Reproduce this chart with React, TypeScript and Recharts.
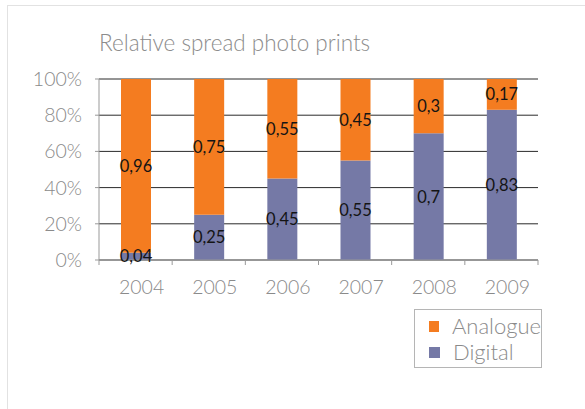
import React from "react";
import {
  BarChart,
  Bar,
  XAxis,
  YAxis,
  CartesianGrid,
  LabelList,
} from "recharts";

const YEARS = ["2004", "2005", "2006", "2007", "2008", "2009"];
const DIGITAL = [0.04, 0.25, 0.45, 0.55, 0.7, 0.83];
const ANALOGUE = [0.96, 0.75, 0.55, 0.45, 0.3, 0.17];
const Y_TICKS = [0, 0.2, 0.4, 0.6, 0.8, 1];

const ORANGE = "#f47c20";
const PURPLE = "#7579a6";
const FONT = "Lato, 'Open Sans', sans-serif";

const W = 585;
const H = 409;
const MARGIN = { top: 79, right: 47, bottom: 119, left: 0 };
const Y_WIDTH = 99;

const data = YEARS.map((year, i) => ({
  year,
  digital: DIGITAL[i],
  analogue: ANALOGUE[i],
}));

const SERIES = [
  { name: "Analogue", color: ORANGE },
  { name: "Digital", color: PURPLE },
];

const commaNum = (v: any) => String(v).replace(".", ",");

// category label in the middle, small tick marks on the band boundaries
const YearTick = (props: any) => {
  const { x, y, payload, index } = props;
  const band = (W - MARGIN.right - Y_WIDTH) / YEARS.length;
  const top = y - 8;
  return (
    <g>
      <line x1={x - band / 2} x2={x - band / 2} y1={top} y2={top + 5} stroke="#999" />
      {index === YEARS.length - 1 && (
        <line x1={x + band / 2} x2={x + band / 2} y1={top} y2={top + 5} stroke="#999" />
      )}
      <text
        x={x + 6}
        y={top + 34}
        textAnchor="middle"
        fill="#8a8a8a"
        fontSize={19.5}
        fontFamily={FONT}
        fontWeight={300}
      >
        {payload.value}
      </text>
    </g>
  );
};

const LegendBox = () => (
  <div
    style={{
      position: "absolute",
      left: 414,
      top: 309,
      border: "1px solid #b5b5b5",
      width: 128,
      height: 59,
      boxSizing: "border-box",
      padding: "3px 0 0 14px",
      fontFamily: FONT,
      fontWeight: 300,
      fontSize: 22,
      color: "#8a8a8a",
      lineHeight: "26px",
      whiteSpace: "nowrap",
    }}
  >
    {SERIES.map((item) => (
      <div key={item.name} style={{ display: "flex", alignItems: "center" }}>
        <span
          style={{ width: 11, height: 11, background: item.color, marginRight: 13, display: "inline-block" }}
        />
        <span>{item.name}</span>
      </div>
    ))}
  </div>
);

export default function App() {
  return (
    <div style={{ position: "absolute", left: 0, top: 0, width: W, height: H, background: "#fff", overflow: "hidden" }}>
      <div
        style={{
          position: "absolute",
          left: 7,
          top: 5,
          width: 640,
          height: 440,
          border: "1px solid #e2e2e2",
        }}
      />
      <div
        style={{
          position: "absolute",
          left: 99,
          top: 29,
          fontFamily: FONT,
          fontWeight: 300,
          fontSize: 22.5,
          color: "#8c8c8c",
          whiteSpace: "nowrap",
        }}
      >
        Relative spread photo prints
      </div>
      <BarChart width={W} height={H} data={data} margin={MARGIN} style={{ position: "absolute", left: 0, top: 0 }}>
        <CartesianGrid vertical={false} stroke="#2a2a2a" yAxisId="l" />
        <XAxis
          dataKey="year"
          axisLine={{ stroke: "#999" }}
          tickLine={false}
          tick={<YearTick />}
          height={30}
          interval={0}
        />
        <YAxis
          yAxisId="l"
          domain={[0, 1]}
          ticks={Y_TICKS}
          interval={0}
          width={Y_WIDTH}
          axisLine={{ stroke: "#999" }}
          tickLine={{ stroke: "#999" }}
          tickSize={4}
          tickMargin={13}
          tickFormatter={(v: number) => `${Math.round(v * 100)}%`}
          tick={{ fill: "#8a8a8a", fontSize: 19.5, fontFamily: FONT, fontWeight: 300 }}
        />
        <YAxis
          yAxisId="r"
          orientation="right"
          domain={[0, 1]}
          width={0}
          tick={false}
          tickLine={false}
          axisLine={{ stroke: "#aaa" }}
        />
        <Bar dataKey="digital" name="Digital" stackId="s" yAxisId="l" fill={PURPLE} barSize={30} isAnimationActive={false}>
          <LabelList
            dataKey="digital"
            position="center"
            formatter={commaNum}
            fill="#141414"
            fontSize={16.5}
            fontFamily={FONT}
          />
        </Bar>
        <Bar dataKey="analogue" name="Analogue" stackId="s" yAxisId="l" fill={ORANGE} barSize={30} isAnimationActive={false}>
          <LabelList
            dataKey="analogue"
            position="center"
            formatter={commaNum}
            fill="#141414"
            fontSize={16.5}
            fontFamily={FONT}
          />
        </Bar>
      </BarChart>
      <LegendBox />
    </div>
  );
}
